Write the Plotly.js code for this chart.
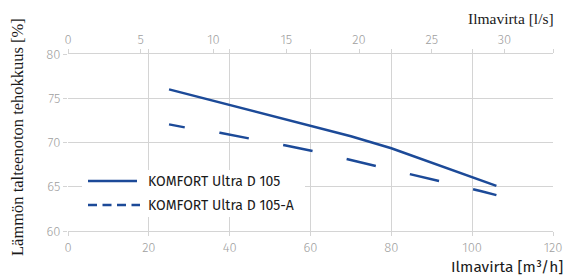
<!DOCTYPE html>
<html>
<head>
<meta charset="utf-8">
<script src="https://cdn.plot.ly/plotly-3.0.1.min.js"></script>
<style>html,body{margin:0;padding:0;background:#fff;}#chart{width:567px;height:276px;}</style>
</head>
<body>
<div id="chart"></div>
<script>
// Data
const flowA = [25, 40, 60, 70, 80, 90, 100, 106];
const effA = [76.0, 74.25, 71.85, 70.7, 69.35, 67.7, 66.0, 65.1];
const flowB = [25, 29, 37.6, 45.2, 53.9, 61.4, 70.2, 77.4, 86.3, 93.5, 102.3, 106];
const effB = [72.05, 71.7, 71.1, 70.45, 69.65, 68.95, 68.0, 67.25, 66.3, 65.5, 64.5, 64.05];
const seriesNames = ['KOMFORT Ultra D 105', 'KOMFORT Ultra D 105-A'];
const bottomTicks = [0, 20, 40, 60, 80, 100, 120];
const topTicks = [0, 5, 10, 15, 20, 25, 30];
const yTicks = [60, 65, 70, 75, 80];

const blue = '#1c4a98';
const tickFont = {family: 'Fira Sans, Open Sans, sans-serif', size: 13, color: '#a0a0a0', weight: 300};
const legFont = {family: 'Fira Sans, Open Sans, sans-serif', size: 14, color: '#1a1a1a'};

// plot area in pixels: x 68..553, y 54..231
const px = v => (v - 68) / 485;
const py = v => (231 - v) / 177;

const traces = [
  {x: flowA, y: effA, name: seriesNames[0], mode: 'lines', line: {color: blue, width: 2.5}, xaxis: 'x', yaxis: 'y'},
  {x: flowB, y: effB, name: seriesNames[1], mode: 'lines', line: {color: blue, width: 2.5, dash: '16px,35px,30px,35px,30px,35px,30px,35px,30px,35px,30px,35px'}, xaxis: 'x', yaxis: 'y'},
  {x: [0], y: [null], showlegend: false, hoverinfo: 'skip', xaxis: 'x2', yaxis: 'y'}
];

const layout = {
  width: 567, height: 276,
  margin: {l: 68, r: 14, t: 54, b: 45},
  paper_bgcolor: '#fff', plot_bgcolor: '#fff',
  showlegend: false,
  xaxis: {range: [0, 120], tickvals: bottomTicks, showgrid: true, gridcolor: '#d4d4d4', gridwidth: 1,
    zeroline: false, showline: true, linecolor: '#d4d4d4', ticks: 'outside', ticklen: 4, tickcolor: '#d4d4d4',
    tickfont: tickFont, mirror: 'ticks'},
  xaxis2: {range: [0, 120/3.6], tickvals: topTicks, overlaying: 'x', side: 'top', showgrid: false,
    zeroline: false, showline: false, ticks: 'outside', ticklen: 4, tickcolor: '#d4d4d4', tickfont: tickFont},
  yaxis: {range: [60, 80], tickvals: yTicks, showgrid: true, gridcolor: '#d4d4d4', gridwidth: 1,
    zeroline: false, showline: false, ticks: 'outside', ticklen: 4, tickcolor: '#d4d4d4', tickfont: tickFont},
  shapes: [
    {type: 'rect', xref: 'paper', yref: 'paper', x0: px(82), x1: px(305), y0: py(217), y1: py(170),
      fillcolor: '#fff', line: {width: 0}, layer: 'above'},
    {type: 'line', xref: 'paper', yref: 'paper', x0: px(88), x1: px(137), y0: py(181), y1: py(181),
      line: {color: blue, width: 2.5}},
    {type: 'line', xref: 'paper', yref: 'paper', x0: px(88), x1: px(140), y0: py(205), y1: py(205),
      line: {color: blue, width: 2.5, dash: '9px,5.5px'}}
  ],
  annotations: [
    {text: seriesNames[0], xref: 'paper', yref: 'paper', x: px(146), y: py(181), xanchor: 'left', yanchor: 'middle',
      showarrow: false, font: legFont},
    {text: seriesNames[1], xref: 'paper', yref: 'paper', x: px(146), y: py(205), xanchor: 'left', yanchor: 'middle',
      showarrow: false, font: legFont},
    {text: 'Lämmön talteenoton tehokkuus [%]', xref: 'paper', yref: 'paper', x: -0.1, y: 0.5, xanchor: 'center', yanchor: 'middle',
      textangle: -90, showarrow: false, xshift: -2, yshift: 5, font: {family: 'Liberation Serif, serif', size: 16.5, color: '#1a1a1a'}},
    {text: 'Ilmavirta [l/s]', xref: 'paper', yref: 'paper', x: 1, y: 1, xanchor: 'right', yanchor: 'bottom',
      yshift: 25, xshift: 3, showarrow: false, font: {family: 'Liberation Serif, serif', size: 15.5, color: '#1a1a1a'}},
    {text: 'Ilmavirta [m³/h]', xref: 'paper', yref: 'paper', x: 1, y: 0, xanchor: 'right', yanchor: 'top',
      yshift: -25, xshift: 12, showarrow: false, font: {family: 'Fira Sans, Open Sans, sans-serif', size: 15.5, color: '#1a1a1a'}}
  ]
};

Plotly.newPlot('chart', traces, layout, {displayModeBar: false, staticPlot: true});
</script>
</body>
</html>
